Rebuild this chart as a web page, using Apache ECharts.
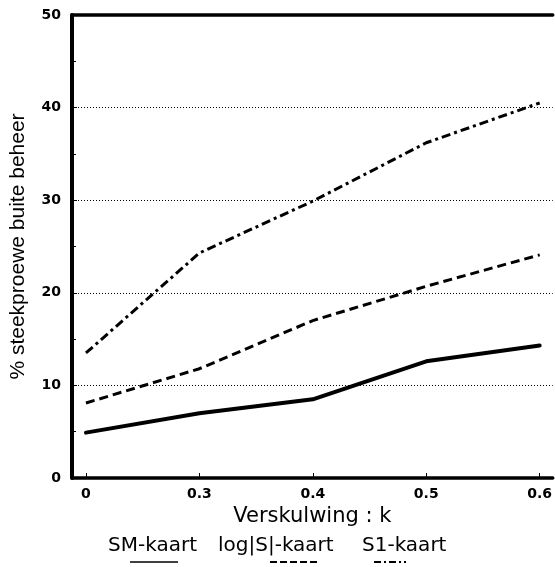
<!DOCTYPE html>
<html><head><meta charset="utf-8">
<script src="https://cdn.jsdelivr.net/npm/echarts@6/dist/echarts.min.js"></script>
<style>html,body{margin:0;padding:0;background:#fff}#c{width:555px;height:567px}</style>
</head><body><div id="c"></div>
<script>
const kLabels = ['0', '0.3', '0.4', '0.5', '0.6'];
const smKaart = [4.9, 7.0, 8.5, 12.6, 14.3];
const logSKaart = [8.1, 11.8, 17.0, 20.7, 24.1];
const s1Kaart = [13.5, 24.3, 29.9, 36.2, 40.5];
const legendNames = ['SM-kaart', 'log|S|-kaart', 'S1-kaart'];
const yAxisTitle = '% steekproewe buite beheer';
const xAxisTitle = 'Verskulwing : k';

const idx = kLabels.map((_, i) => i);
const pts = arr => arr.map((v, i) => [i, v]);
const chart = echarts.init(document.getElementById('c'), null, {renderer: 'canvas'});
const XMIN = -0.123, XMAX = 4.115;
chart.setOption({
  animation: false,
  backgroundColor: '#fff',
  grid: {left: 69, right: 2, top: 15, bottom: 89},
  xAxis: [{
    type: 'value', min: XMIN, max: XMAX,
    axisLine: {onZero: false, lineStyle: {color: '#000', width: 3.5}},
    axisTick: {customValues: idx, inside: true, length: 5, lineStyle: {color: '#000', width: 1}},
    axisLabel: {customValues: idx, formatter: v => kLabels[Math.round(v)], color: '#000',
      fontFamily: 'DejaVu Sans', fontWeight: 'bold', fontSize: 14, margin: 9},
    splitLine: {show: false},
    name: xAxisTitle, nameLocation: 'middle', nameGap: 22,
    nameTextStyle: {fontFamily: 'DejaVu Sans', fontSize: 21, color: '#000', verticalAlign: 'top'}
  }, {
    type: 'value', position: 'top', min: XMIN, max: XMAX,
    axisLine: {onZero: false, lineStyle: {color: '#000', width: 3.5}},
    axisTick: {show: false}, axisLabel: {show: false}, splitLine: {show: false}
  }],
  yAxis: {
    type: 'value', min: 0, max: 50, interval: 10,
    axisLine: {show: true, onZero: false, lineStyle: {color: '#000', width: 4}},
    axisTick: {show: true, inside: true, length: 5, lineStyle: {color: '#000', width: 1}},
    minorTick: {show: true, splitNumber: 2, length: 4, lineStyle: {color: '#000', width: 1}},
    axisLabel: {color: '#000', fontFamily: 'DejaVu Sans', fontWeight: 'bold', fontSize: 14, margin: 11},
    splitLine: {show: true, lineStyle: {color: '#000', width: 1, type: [1, 2]}},
    name: yAxisTitle, nameLocation: 'middle', nameGap: 43, nameRotate: 90,
    nameTextStyle: {fontFamily: 'Liberation Sans', fontSize: 21, color: '#000'}
  },
  series: [{
    name: legendNames[0], type: 'line', data: pts(smKaart), symbol: 'none', xAxisIndex: 0,
    lineStyle: {color: '#000', width: 4, cap: 'round'}
  }, {
    name: legendNames[1], type: 'line', data: pts(logSKaart), symbol: 'none', xAxisIndex: 0,
    lineStyle: {color: '#000', width: 3, type: [9, 5]}
  }, {
    name: legendNames[2], type: 'line', data: pts(s1Kaart), symbol: 'none', xAxisIndex: 0,
    lineStyle: {color: '#000', width: 3, type: [9, 4, 3, 4]}
  }],
  graphic: [
    {type: 'text', left: 108, top: 536, style: {text: legendNames[0], font: '20px "DejaVu Sans"', fill: '#000'}},
    {type: 'text', left: 218, top: 536, style: {text: legendNames[1], font: '20px "DejaVu Sans"', fill: '#000'}},
    {type: 'text', left: 362, top: 536, style: {text: legendNames[2], font: '20px "DejaVu Sans"', fill: '#000'}},
    {type: 'line', shape: {x1: 130, y1: 562, x2: 178, y2: 562}, style: {stroke: '#000', lineWidth: 1.5}},
    {type: 'line', shape: {x1: 270, y1: 562, x2: 318, y2: 562}, style: {stroke: '#000', lineWidth: 2, lineDash: [7, 3]}},
    {type: 'line', shape: {x1: 374, y1: 562, x2: 406, y2: 562}, style: {stroke: '#000', lineWidth: 2, lineDash: [7, 3, 2, 3]}}
  ]
});
</script></body></html>
